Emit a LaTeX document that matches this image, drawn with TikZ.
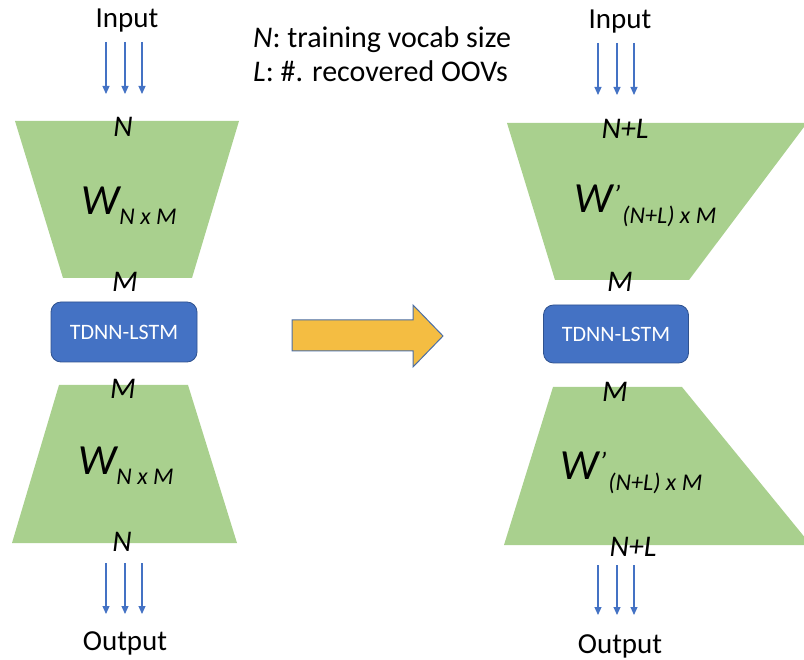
\documentclass[tikz,border=0pt]{standalone}
\usepackage{fontspec}
\setmainfont{Carlito}
\usetikzlibrary{arrows.meta}
\definecolor{leaf}{HTML}{A9D08E}
\definecolor{boxblue}{HTML}{4472C4}
\definecolor{boxedge}{HTML}{2F528F}
\definecolor{gold}{HTML}{F4BD42}
\definecolor{arrowedge}{HTML}{4A6EA6}
\newcommand{\wmat}[1]{\fontsize{43}{46}\selectfont\itshape W\raisebox{-10pt}{\fontsize{24}{26}\selectfont\itshape #1}}
\newcommand{\wprime}[1]{\fontsize{43}{46}\selectfont\itshape W\kern1pt\raisebox{8pt}{\fontsize{28}{30}\selectfont\textquoteright}\kern2pt\raisebox{-11pt}{\fontsize{24}{26}\selectfont\itshape #1}}
\begin{document}
\begin{tikzpicture}[x=1pt,y=-1pt,
  layer/.style={fill=leaf},
  dim/.style={font=\fontsize{30}{32}\selectfont\itshape, inner sep=0pt},
  plain/.style={font=\fontsize{29}{31}\selectfont, inner sep=0pt},
  mat/.style={inner sep=0pt, anchor=base west},
  core/.style={draw=boxedge, line width=0.8pt, fill=boxblue, rounded corners=10pt,
    text=white, font=\fontsize{22}{24}\selectfont, minimum width=146pt, minimum height=60pt},
  flow/.style={draw=boxblue, line width=1.1pt, -{Triangle[width=7pt,length=8pt]}},
]
\useasboundingbox (0,0) rectangle (804,660);

% ---------- original network (left) ----------
\fill[layer] (15,121) -- (239,121) -- (192,278) -- (63,278) -- cycle;
\fill[layer] (59,385) -- (188,385) -- (237,543) -- (12,543) -- cycle;
\node[core] (lstmA) at (124,332) {TDNN-LSTM};
\node[plain] (inA) at (127,21) {Input};
\node[plain] (outA) at (125,643) {Output};
\node[dim] (nA) at (123,127) {N};
\node[dim] (mA) at (125,282) {M};
\node[dim] (mB) at (123,389) {M};
\node[dim] (nB) at (122,542) {N};
\node[mat] (wA) at (81,215) {\wmat{N x M}};
\node[mat] (wB) at (78,475) {\wmat{N x M}};

\foreach \x [count=\i] in {106,125,142}{
  \coordinate (a\i) at (\x,42); \coordinate (b\i) at (\x,94);
  \draw[flow] (a\i) -- (b\i);
  \coordinate (c\i) at (\x,563); \coordinate (d\i) at (\x,614);
  \draw[flow] (c\i) -- (d\i);
}

% ---------- extended network (right) ----------
\fill[layer] (507,123) -- (807,123) -- (689,280) -- (555,280) -- cycle;
\fill[layer] (553,387) -- (682,387) -- (811,545) -- (504,545) -- cycle;
\node[core, minimum width=145pt, minimum height=58pt] (lstmC) at (616,334) {TDNN-LSTM};
\node[plain] (inC) at (620,22) {Input};
\node[plain] (outC) at (620,646) {Output};
\node[dim] (nlC) at (625,129) {N+L};
\node[dim] (mC) at (620,282) {M};
\node[dim] (mD) at (615,392) {M};
\node[dim] (nlD) at (633,547) {N+L};
\node[mat] (wC) at (574,213) {\wprime{(N+L) x M}};
\node[mat] (wD) at (560,479) {\wprime{(N+L) x M}};

\foreach \x [count=\i] in {598,617,634}{
  \coordinate (e\i) at (\x,43); \coordinate (f\i) at (\x,95);
  \draw[flow] (e\i) -- (f\i);
  \coordinate (g\i) at (\x,565); \coordinate (h\i) at (\x,615);
  \draw[flow] (g\i) -- (h\i);
}

% ---------- legend ----------
\node[anchor=west, inner sep=0pt, font=\fontsize{30}{32}\selectfont] (legN) at (253,40) {\textit{N}: training vocab size};
\node[anchor=west, inner sep=0pt, font=\fontsize{30}{32}\selectfont] (legL) at (253,71) {\textit{L}: \#. recovered OOVs};

% ---------- transition arrow ----------
\draw[fill=gold, draw=arrowedge, line width=1pt, line join=miter]
  (292,320) -- (413,320) -- (413,305) -- (443,336) -- (413,367) -- (413,351) -- (292,351) -- cycle;
\end{tikzpicture}
\end{document}
